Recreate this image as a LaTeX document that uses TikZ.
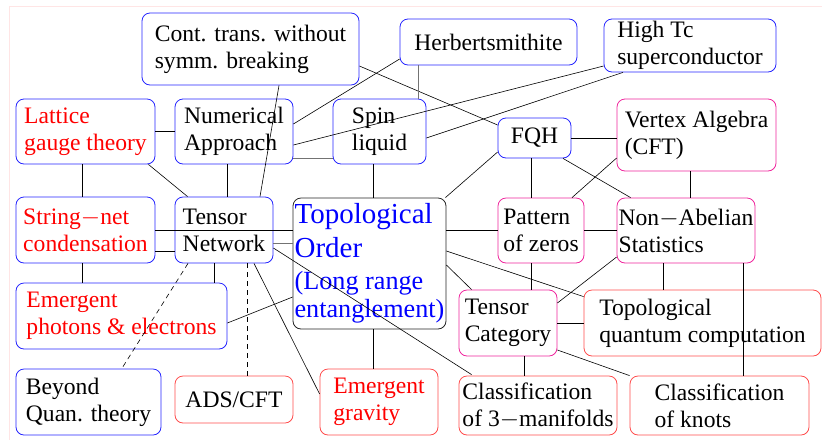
\documentclass[tikz,border=0pt]{standalone}
\usepackage{fontspec}
\setmainfont{Liberation Serif}
\usetikzlibrary{positioning,arrows.meta,shapes.geometric}

\begin{document}
\begin{tikzpicture}[x=1pt,y=-1pt]

\tikzstyle{box}=[rectangle, rounded corners=8pt, line width=0.8pt, align=left, inner sep=0pt, font=\fontsize{23.6}{27}\selectfont]
\tikzstyle{bluebox}=[box, draw=blue!85]
\tikzstyle{magbox}=[box, draw=magenta!85]
\tikzstyle{redbox}=[box, draw=red!70]
\tikzstyle{topobox}=[box, draw=black!85, text=blue, font=\fontsize{29}{34}\selectfont]
\tikzstyle{link}=[draw=black, line width=0.6pt]
\tikzstyle{greylink}=[draw=black!55, line width=0.9pt]
\tikzstyle{dashlink}=[draw=black, line width=0.6pt, dash pattern=on 5pt off 4pt]

\useasboundingbox (0,0) rectangle (822,440);
\draw[red!10, line width=0.8pt] (9,440) -- (9,6) -- (822,6);

\node (cont) [bluebox, minimum width=217pt, minimum height=72pt] at (250.5,49) {Cont. trans. without\\symm. breaking};
\node (herb) [bluebox, minimum width=177pt, minimum height=46pt] at (488.5,42) {Herbertsmithite};
\node (hightc) [bluebox, minimum width=172pt, minimum height=53pt] at (690,45.5) {High Tc\\superconductor};
\node (lattice) [bluebox, text=red, minimum width=139pt, minimum height=65pt] at (85.5,131.5) {Lattice\\gauge theory};
\node (numer) [bluebox, minimum width=118pt, minimum height=65pt] at (234,131.5) {Numerical\\Approach};
\node (spin) [bluebox, minimum width=93pt, minimum height=65pt] at (379.5,131.5) {Spin\\liquid};
\node (fqh) [bluebox, minimum width=73pt, minimum height=40pt] at (534.5,138) {FQH};
\node (vertex) [magbox, minimum width=159pt, minimum height=72pt] at (696.5,135) {Vertex Algebra\\(CFT)};
\node (string) [bluebox, text=red, minimum width=139pt, minimum height=66pt] at (85.5,230) {String$-$net\\condensation};
\node (tensnet) [bluebox, minimum width=98pt, minimum height=66pt] at (224,230) {Tensor\\Network};
\node (topo) [topobox, minimum width=153pt, minimum height=131pt] at (369.5,263.5) {Topological\\Order\\[-2pt]{\fontsize{26.2}{27}\selectfont (Long range}\\[-6pt]{\fontsize{26.2}{27}\selectfont entanglement)}};
\node (pattern) [magbox, minimum width=86pt, minimum height=65pt] at (541,230.5) {Pattern\\of zeros};
\node (nonab) [magbox, minimum width=138pt, minimum height=65pt] at (686,230.5) {Non$-$Abelian\\Statistics};
\node (photon) [bluebox, text=red, minimum width=211pt, minimum height=66pt] at (121.5,316) {Emergent\\photons \& electrons};
\node (tenscat) [magbox, minimum width=98pt, minimum height=66pt] at (508,323) {Tensor\\Category};
\node (tqc) [redbox, minimum width=237pt, minimum height=66pt] at (702.5,323) {Topological\\quantum computation};
\node (beyond) [bluebox, minimum width=145pt, minimum height=66pt] at (88.5,402) {Beyond\\Quan. theory};
\node (ads) [redbox, minimum width=118pt, minimum height=47pt] at (234,399.5) {ADS/CFT};
\node (gravity) [redbox, text=red, minimum width=118pt, minimum height=66pt] at (379,402) {Emergent\\gravity};
\node (mani) [redbox, minimum width=158pt, minimum height=59pt] at (538,405.5) {Classification\\of 3$-$manifolds};
\node (knots) [redbox, minimum width=179pt, minimum height=59pt] at (719.5,405.5) {Classification\\of knots};

\path ([xshift=19pt]herb.south west) coordinate (hs);

\draw[link] ([xshift=28.5pt]cont.south) -- ([xshift=36pt]tensnet.north);
\draw[link] ([yshift=-17pt]cont.east) -- ([yshift=13pt]fqh.west);
\draw[link] ([yshift=7.5pt]numer.east) -- ([yshift=-17pt]herb.west);
\draw[link] ([yshift=-13.5pt]numer.east) -- ([yshift=-20.5pt]hightc.west);
\draw[link] ([yshift=-6.5pt]spin.east) -- ([xshift=-67pt]hightc.south);
\draw[greylink] (hs) -- (hs |- spin.north);
\draw[link] (lattice.east) -- (numer.west);
\draw[link] ([xshift=-3.5pt]lattice.south) -- ([xshift=-3.5pt]string.north);
\draw[link] ([xshift=-7pt]lattice.south east) -- ([xshift=13pt]tensnet.north west);
\draw[link] ([xshift=-7pt]numer.south) -- ([xshift=3pt]tensnet.north);
\draw[greylink] ([yshift=-26.5pt]numer.east) -- ([yshift=-26.5pt]spin.west);
\draw[link] ([xshift=-6.5pt]spin.south) -- ([xshift=3.5pt]topo.north);
\draw[link] ([yshift=-14pt]fqh.west) -- ([xshift=-1pt]topo.north east);
\draw[link] (fqh.east) -- ([yshift=-3pt]vertex.west);
\draw[link] ([xshift=-3.5pt]fqh.south) -- ([xshift=-10pt]pattern.north);
\draw[link] ([xshift=28.5pt]fqh.south) -- ([xshift=14pt]nonab.north west);
\draw[link] ([yshift=-23pt]vertex.west) -- ([xshift=31pt]pattern.north);
\draw[link] ([xshift=-6.5pt]vertex.south) -- ([xshift=4pt]nonab.north);
\draw[link] ([yshift=-21pt]string.east) -- ([yshift=-21pt]tensnet.west);
\draw[link] ([yshift=-0.5pt]string.east) -- ([yshift=33pt]topo.west);
\draw[greylink] ([yshift=-13pt]tensnet.east) -- ([yshift=20.5pt]topo.west);
\draw[link] ([xshift=-3.5pt]string.south) -- ([xshift=-39.5pt]photon.north);
\draw[link] ([xshift=-10pt]tensnet.south) -- ([xshift=92.5pt]photon.north);
\draw[dashlink] ([xshift=-36pt]tensnet.south) -- ([xshift=34.5pt,yshift=2pt]beyond.north);
\draw[dashlink] ([xshift=23pt]tensnet.south) -- ([xshift=13pt]ads.north);
\draw[link] ([xshift=30pt]tensnet.south) -- ([yshift=8pt]gravity.west);
\draw[link] ([yshift=-18pt]tensnet.east) -- ([xshift=13pt,yshift=1pt]mani.north west);
\draw[link] ([yshift=-7pt]photon.east) -- ([yshift=-33.5pt]topo.west);
\draw[link] ([yshift=33pt]topo.east) -- (pattern.west);
\draw[link] (pattern.east) -- (nonab.west);
\draw[link] ([yshift=12.5pt]topo.east) -- ([yshift=-7pt]tqc.north west);
\draw[link] ([yshift=-1.5pt]topo.east) -- ([xshift=13pt]tenscat.north west);
\draw[link] ([xshift=3.5pt]topo.south) -- ([xshift=-6pt]gravity.north);
\draw[link] ([xshift=-10pt]pattern.south) -- ([xshift=23pt]tenscat.north);
\draw[link] ([yshift=-26.5pt]nonab.west) -- ([yshift=20pt]tenscat.east);
\draw[link] ([xshift=-23pt]nonab.south) -- ([xshift=-39.5pt]tqc.north);
\draw[link] ([xshift=57pt]nonab.south) -- ([xshift=23.5pt]knots.north);
\draw[link] (tenscat.east) -- (tqc.west);
\draw[link] ([xshift=16pt]tenscat.south) -- ([xshift=-14pt]mani.north);
\draw[link] ([yshift=-27pt]tenscat.east) -- (knots.north west);
\end{tikzpicture}
\end{document}
